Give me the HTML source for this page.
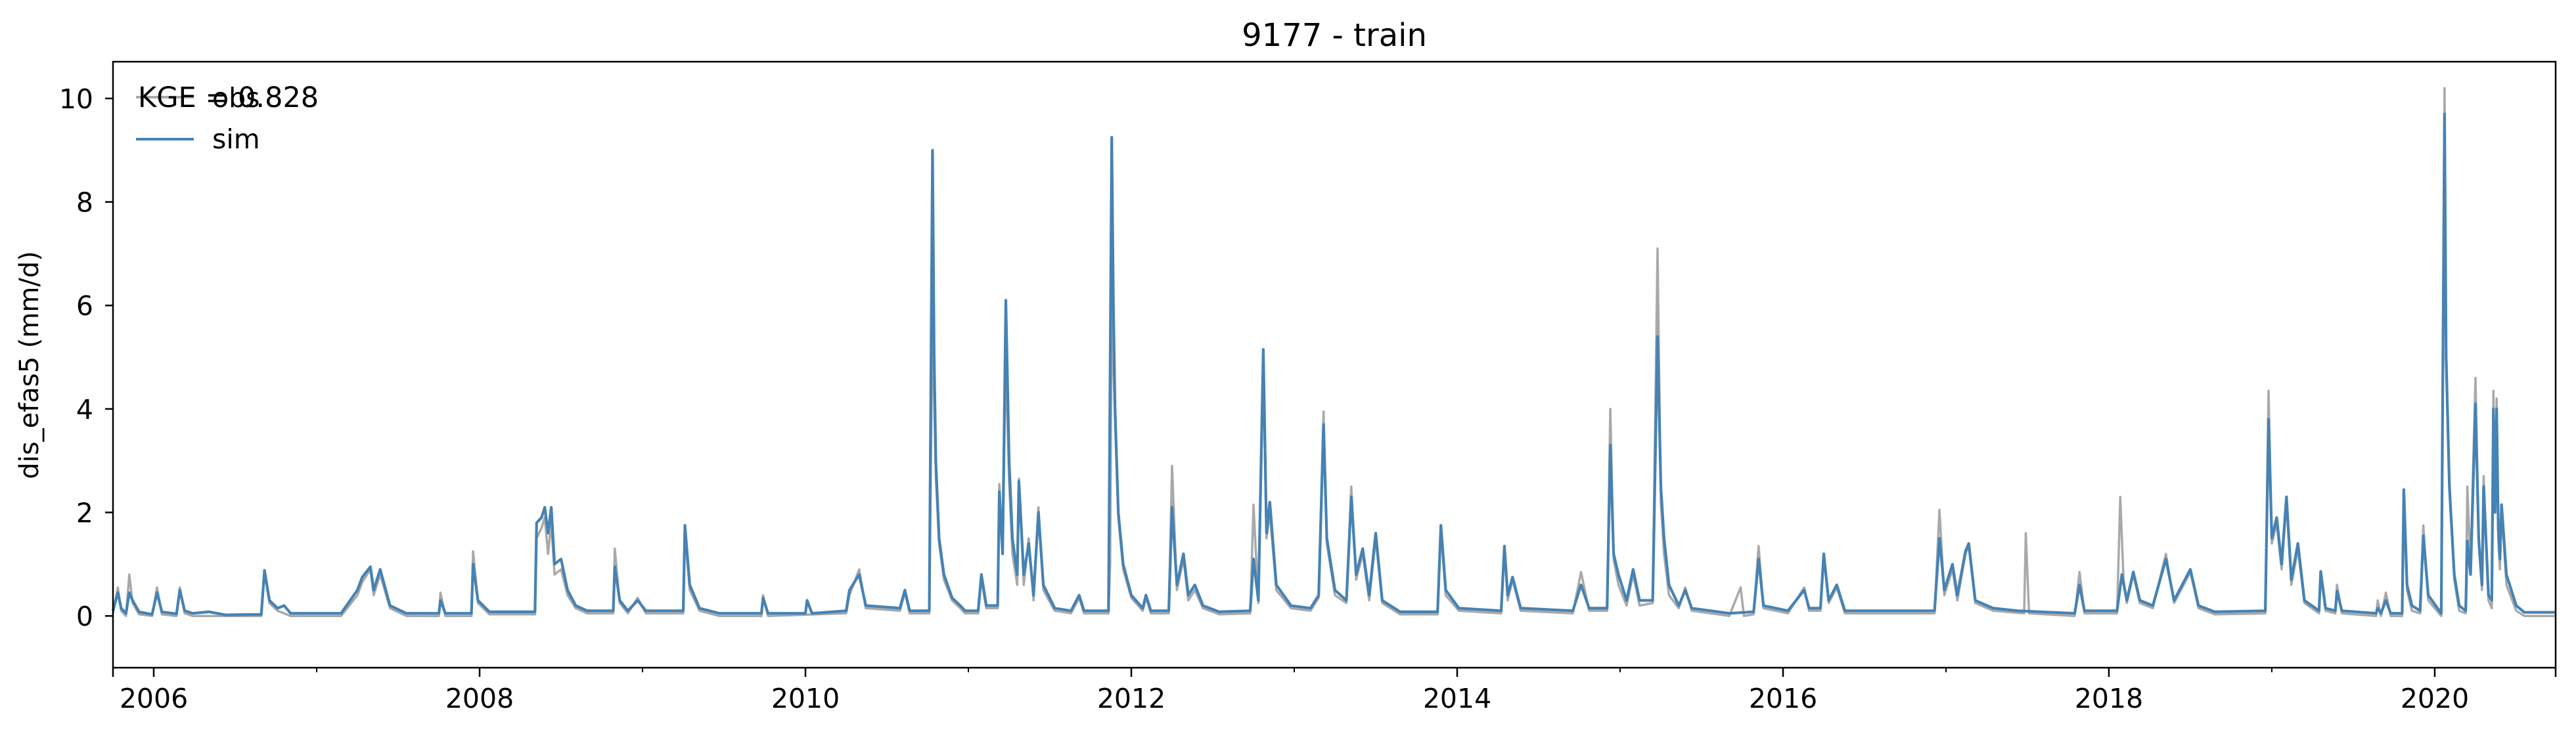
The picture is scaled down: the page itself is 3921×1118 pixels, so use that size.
<!DOCTYPE html>
<html><head><meta charset="utf-8">
<style>
html,body{margin:0;padding:0;background:#fff;}
svg{display:block;font-family:"DejaVu Sans","Liberation Sans",sans-serif;}
</style></head>
<body>
<svg id="chart" width="3921" height="1118" viewBox="0 0 3921 1118" xmlns="http://www.w3.org/2000/svg">
<rect x="0" y="0" width="3921" height="1118" fill="#fff"/>
<text x="2031" y="70" font-size="48" text-anchor="middle">9177 - train</text>
<text transform="translate(58,556) rotate(-90)" font-size="40" text-anchor="middle">dis_efas5 (mm/d)</text>
<g id="plot"></g>
<g id="axes"></g>
<g id="legend">
  <line x1="207" y1="148" x2="295" y2="148" stroke="#a9a9a9" stroke-width="4"/>
  <text x="323" y="163" font-size="41">obs</text>
  <line x1="207" y1="212" x2="295" y2="212" stroke="#4682b4" stroke-width="4"/>
  <text x="323" y="226" font-size="41">sim</text>
  <text x="210" y="163" font-size="43">KGE = 0.828</text>
</g>
</svg>
<script>
const yTicks = [0, 2, 4, 6, 8, 10];
const xTickYears = [2006, 2008, 2010, 2012, 2014, 2016, 2018, 2020];
const xMinorYears = [2007, 2009, 2011, 2013, 2015, 2017, 2019];
const xDomain = [2005.75, 2020.742];
const yDomain = [-1.0, 10.71];

const simSeries = [
[2005.75,0.1],[2005.78,0.45],[2005.80,0.15],[2005.83,0.05],[2005.85,0.45],[2005.87,0.3],[2005.91,0.08],[2005.99,0.03],[2006.02,0.45],[2006.05,0.08],[2006.14,0.04],[2006.16,0.5],[2006.19,0.1],[2006.24,0.05],[2006.34,0.08],[2006.44,0.02],[2006.66,0.03],[2006.68,0.88],[2006.71,0.3],[2006.76,0.15],[2006.80,0.2],[2006.84,0.05],
[2007.15,0.05],[2007.25,0.5],[2007.28,0.75],[2007.33,0.95],[2007.35,0.5],[2007.39,0.9],[2007.45,0.2],[2007.55,0.05],[2007.75,0.05],[2007.76,0.3],[2007.79,0.05],
[2007.95,0.05],[2007.96,1.0],[2007.99,0.3],[2008.06,0.08],[2008.34,0.08],[2008.35,1.8],[2008.38,1.9],[2008.40,2.1],[2008.42,1.6],[2008.44,2.1],[2008.46,1.0],[2008.50,1.1],[2008.54,0.5],[2008.59,0.2],[2008.66,0.1],[2008.82,0.1],[2008.83,0.95],[2008.86,0.3],[2008.91,0.1],
[2008.97,0.3],[2009.02,0.1],[2009.25,0.1],[2009.26,1.75],[2009.29,0.6],[2009.35,0.15],[2009.47,0.05],[2009.73,0.05],[2009.74,0.35],[2009.77,0.05],
[2010.0,0.05],[2010.01,0.3],[2010.04,0.05],[2010.25,0.1],[2010.27,0.5],[2010.33,0.8],[2010.37,0.2],[2010.58,0.15],[2010.61,0.5],[2010.64,0.1],[2010.76,0.1],[2010.78,9.0],[2010.79,5.0],[2010.80,3.0],[2010.82,1.5],[2010.85,0.8],[2010.90,0.35],[2010.95,0.2],[2010.98,0.1],
[2011.06,0.1],[2011.08,0.8],[2011.11,0.2],[2011.18,0.2],[2011.19,2.4],[2011.21,1.2],[2011.23,6.1],[2011.25,3.0],[2011.27,1.5],[2011.30,0.8],[2011.31,2.6],[2011.34,0.8],[2011.37,1.4],[2011.40,0.4],[2011.43,2.0],[2011.46,0.6],[2011.53,0.15],[2011.63,0.1],[2011.68,0.4],[2011.71,0.1],[2011.86,0.1],[2011.88,9.25],[2011.89,6.0],[2011.90,4.0],[2011.92,2.0],[2011.95,1.0],[2012.0,0.4],
[2012.07,0.15],[2012.09,0.4],[2012.12,0.1],[2012.23,0.1],[2012.25,2.1],[2012.28,0.6],[2012.32,1.2],[2012.35,0.4],[2012.39,0.6],[2012.44,0.2],[2012.54,0.08],[2012.73,0.1],[2012.75,1.1],[2012.78,0.3],[2012.81,5.15],[2012.83,1.6],[2012.85,2.2],[2012.89,0.6],
[2012.98,0.2],[2013.10,0.15],[2013.15,0.4],[2013.18,3.7],[2013.20,1.5],[2013.25,0.5],[2013.32,0.3],[2013.35,2.3],[2013.38,0.8],[2013.42,1.3],[2013.46,0.4],[2013.50,1.6],[2013.54,0.3],[2013.65,0.08],[2013.88,0.08],[2013.90,1.75],[2013.93,0.5],
[2014.01,0.15],[2014.27,0.1],[2014.29,1.35],[2014.31,0.4],[2014.34,0.75],[2014.39,0.15],[2014.71,0.1],[2014.76,0.6],[2014.81,0.15],[2014.92,0.15],[2014.94,3.3],[2014.96,1.2],[2014.99,0.8],
[2015.04,0.3],[2015.08,0.9],[2015.12,0.3],[2015.20,0.3],[2015.23,5.4],[2015.25,2.5],[2015.27,1.5],[2015.30,0.6],[2015.36,0.2],[2015.40,0.5],[2015.44,0.15],[2015.67,0.05],[2015.82,0.08],[2015.85,1.1],[2015.88,0.2],
[2016.03,0.1],[2016.13,0.5],[2016.16,0.15],[2016.23,0.15],[2016.25,1.2],[2016.28,0.3],[2016.33,0.6],[2016.38,0.1],[2016.93,0.1],[2016.96,1.5],[2016.99,0.5],
[2017.04,1.0],[2017.07,0.4],[2017.12,1.25],[2017.14,1.4],[2017.18,0.3],[2017.29,0.15],[2017.44,0.1],[2017.79,0.05],[2017.82,0.6],[2017.85,0.1],
[2018.05,0.1],[2018.08,0.8],[2018.11,0.3],[2018.15,0.85],[2018.19,0.3],[2018.27,0.2],[2018.35,1.1],[2018.40,0.3],[2018.50,0.9],[2018.55,0.2],[2018.65,0.08],[2018.96,0.1],[2018.98,3.8],[2019.0,1.5],[2019.03,1.9],[2019.06,1.0],[2019.09,2.3],[2019.12,0.7],[2019.16,1.4],[2019.20,0.3],
[2019.29,0.1],[2019.3,0.86],[2019.33,0.15],[2019.39,0.1],[2019.4,0.48],[2019.43,0.1],[2019.64,0.05],[2019.65,0.15],[2019.67,0.05],[2019.7,0.3],[2019.73,0.05],[2019.8,0.05],[2019.81,2.44],[2019.83,0.6],[2019.86,0.2],[2019.91,0.1],[2019.93,1.55],[2019.96,0.4],[2020.04,0.05],[2020.06,9.7],[2020.07,5.0],[2020.09,2.5],[2020.12,0.8],[2020.15,0.2],[2020.19,0.1],[2020.2,1.45],[2020.22,0.8],[2020.25,4.1],[2020.27,1.5],[2020.29,0.6],[2020.3,2.5],[2020.33,0.4],[2020.35,0.3],[2020.36,4.0],[2020.37,2.0],[2020.38,4.0],[2020.39,1.7],[2020.4,1.1],[2020.41,2.15],[2020.44,0.8],[2020.5,0.2],[2020.55,0.07],[2020.742,0.07]
];

const obsSeries = [
[2005.75,0.05],[2005.78,0.55],[2005.80,0.1],[2005.83,0.0],[2005.85,0.8],[2005.87,0.25],[2005.91,0.03],[2005.99,0.0],[2006.02,0.55],[2006.05,0.03],[2006.14,0.0],[2006.16,0.55],[2006.19,0.05],[2006.24,0.0],[2006.44,0.0],[2006.66,0.0],[2006.68,0.85],[2006.71,0.25],[2006.76,0.1],[2006.84,0.0],[2007.15,0.0],[2007.25,0.4],[2007.28,0.65],[2007.33,0.9],[2007.35,0.4],[2007.39,0.8],[2007.45,0.15],[2007.55,0.0],[2007.75,0.0],[2007.76,0.45],[2007.79,0.0],[2007.95,0.0],[2007.96,1.25],[2007.99,0.25],[2008.06,0.03],[2008.34,0.03],[2008.35,1.5],[2008.38,1.7],[2008.40,1.9],[2008.42,1.2],[2008.44,1.8],[2008.46,0.8],[2008.50,0.9],[2008.54,0.4],[2008.59,0.15],[2008.66,0.05],[2008.82,0.05],[2008.83,1.3],[2008.86,0.25],[2008.91,0.05],[2008.97,0.35],[2009.02,0.05],[2009.25,0.05],[2009.26,1.6],[2009.29,0.5],[2009.35,0.1],[2009.47,0.0],[2009.73,0.0],[2009.74,0.4],[2009.77,0.0],[2010.25,0.05],[2010.27,0.4],[2010.33,0.9],[2010.37,0.15],[2010.58,0.1],[2010.61,0.45],[2010.64,0.05],[2010.76,0.05],[2010.78,5.8],[2010.80,2.7],[2010.82,1.4],[2010.85,0.7],[2010.90,0.3],[2010.95,0.15],[2010.98,0.05],[2011.06,0.05],[2011.08,0.7],[2011.11,0.15],[2011.18,0.15],[2011.19,2.55],[2011.21,1.3],[2011.23,5.0],[2011.25,2.6],[2011.27,1.2],[2011.30,0.6],[2011.31,2.65],[2011.34,0.6],[2011.37,1.5],[2011.40,0.3],[2011.43,2.1],[2011.46,0.5],[2011.53,0.1],[2011.63,0.05],[2011.68,0.35],[2011.71,0.05],[2011.86,0.05],[2011.87,1.0],[2011.88,6.0],[2011.90,3.8],[2011.92,1.9],[2011.95,0.9],[2012.0,0.35],[2012.07,0.1],[2012.09,0.35],[2012.12,0.05],[2012.23,0.05],[2012.25,2.9],[2012.28,0.5],[2012.32,1.1],[2012.35,0.3],[2012.39,0.5],[2012.44,0.15],[2012.54,0.03],[2012.73,0.05],[2012.75,2.15],[2012.78,0.25],[2012.81,4.8],[2012.83,1.5],[2012.85,2.0],[2012.89,0.5],[2012.98,0.15],[2013.10,0.1],[2013.15,0.35],[2013.18,3.95],[2013.20,1.4],[2013.25,0.4],[2013.32,0.25],[2013.35,2.5],[2013.38,0.7],[2013.42,1.2],[2013.46,0.3],[2013.50,1.5],[2013.54,0.25],[2013.65,0.03],[2013.88,0.03],[2013.90,1.7],[2013.93,0.4],[2014.01,0.1],[2014.27,0.05],[2014.29,1.3],[2014.31,0.3],[2014.34,0.7],[2014.39,0.1],[2014.71,0.05],[2014.76,0.85],[2014.81,0.1],[2014.92,0.1],[2014.94,4.0],[2014.96,1.1],[2014.99,0.6],[2015.04,0.2],[2015.08,0.8],[2015.12,0.2],[2015.20,0.25],[2015.23,7.1],[2015.25,2.2],[2015.27,1.2],[2015.30,0.4],[2015.36,0.15],[2015.40,0.55],[2015.44,0.1],[2015.67,0.0],[2015.74,0.55],[2015.76,0.0],[2015.82,0.03],[2015.85,1.35],[2015.88,0.15],[2016.03,0.05],[2016.13,0.55],[2016.16,0.1],[2016.23,0.1],[2016.25,1.15],[2016.28,0.25],[2016.33,0.55],[2016.38,0.05],[2016.93,0.05],[2016.96,2.05],[2016.99,0.4],[2017.04,0.9],[2017.07,0.3],[2017.12,1.2],[2017.14,1.35],[2017.18,0.25],[2017.29,0.1],[2017.48,0.05],[2017.49,1.6],[2017.51,0.05],[2017.79,0.0],[2017.82,0.85],[2017.85,0.05],[2018.05,0.05],[2018.07,2.3],[2018.09,0.7],[2018.11,0.25],[2018.15,0.8],[2018.19,0.25],[2018.27,0.15],[2018.35,1.2],[2018.40,0.25],[2018.50,0.85],[2018.55,0.15],[2018.65,0.03],[2018.96,0.05],[2018.98,4.35],[2019.0,1.4],[2019.03,1.8],[2019.06,0.9],[2019.09,2.2],[2019.12,0.6],[2019.16,1.3],[2019.20,0.25],
[2019.29,0.05],[2019.3,0.8],[2019.33,0.1],[2019.39,0.05],[2019.4,0.6],[2019.43,0.05],[2019.64,0.0],[2019.65,0.3],[2019.67,0.0],[2019.7,0.45],[2019.73,0.0],[2019.8,0.0],[2019.81,2.3],[2019.83,0.5],[2019.86,0.1],[2019.91,0.05],[2019.93,1.75],[2019.96,0.3],[2020.04,0.0],[2020.06,10.2],[2020.07,5.2],[2020.09,2.6],[2020.12,0.7],[2020.15,0.1],[2020.19,0.05],[2020.2,2.5],[2020.22,0.9],[2020.25,4.6],[2020.27,1.4],[2020.29,0.5],[2020.3,2.7],[2020.33,0.3],[2020.35,0.15],[2020.36,4.35],[2020.37,2.0],[2020.38,4.2],[2020.39,1.5],[2020.4,0.9],[2020.41,2.1],[2020.44,0.6],[2020.5,0.1],[2020.55,0.0],[2020.742,0.0]
];

const L = 172, R = 3890, T = 94, B = 1017;
const NS = 'http://www.w3.org/2000/svg';
function xScale(t){ return L + (t - xDomain[0]) / (xDomain[1] - xDomain[0]) * (R - L); }
function yScale(v){ return B - (v - yDomain[0]) / (yDomain[1] - yDomain[0]) * (B - T); }
function mk(tag, attrs){ const e = document.createElementNS(NS, tag); for (const k in attrs) e.setAttribute(k, attrs[k]); return e; }

const plot = document.getElementById('plot');
const axes = document.getElementById('axes');

function drawSeries(series, color, width, name){
  const pts = series.map(p => xScale(p[0]).toFixed(1) + ',' + yScale(p[1]).toFixed(1)).join(' ');
  const pl = mk('polyline', {points: pts, fill: 'none', stroke: color, 'stroke-width': width, 'stroke-linejoin': 'round'});
  
  
  plot.appendChild(pl);
}
drawSeries(obsSeries, '#a9a9a9', 3.5, 'obs-line');
drawSeries(simSeries, '#4682b4', 4.2, 'sim-line');

const frame = mk('rect', {x: L, y: T, width: R - L, height: B - T, fill: 'none', stroke: '#000', 'stroke-width': 2.5});


axes.appendChild(frame);

yTicks.forEach(v => {
  const y = yScale(v);
  const tk = mk('line', {x1: L - 12, y1: y, x2: L, y2: y, stroke: '#000', 'stroke-width': 2.5});
  
  
  axes.appendChild(tk);
  const lb = mk('text', {x: L - 30, y: y + 15, 'font-size': 41, 'text-anchor': 'end'});
  lb.textContent = String(v);
  
  
  axes.appendChild(lb);
});

xTickYears.forEach(yr => {
  const x = xScale(yr);
  const tk = mk('line', {x1: x, y1: B, x2: x, y2: B + 14, stroke: '#000', 'stroke-width': 2.5});
  
  
  axes.appendChild(tk);
  const lb = mk('text', {x: x, y: B + 61, 'font-size': 41, 'text-anchor': 'middle'});
  lb.textContent = String(yr);
  
  
  axes.appendChild(lb);
});
xMinorYears.forEach(yr => {
  const x = xScale(yr);
  const tk = mk('line', {x1: x, y1: B, x2: x, y2: B + 7, stroke: '#000', 'stroke-width': 2});
  
  
  axes.appendChild(tk);
});
[xDomain[0], xDomain[1]].forEach(t => {
  const x = xScale(t);
  const tk = mk('line', {x1: x, y1: B, x2: x, y2: B + 14, stroke: '#000', 'stroke-width': 2.5});
  
  
  axes.appendChild(tk);
});
</script>
</body></html>
